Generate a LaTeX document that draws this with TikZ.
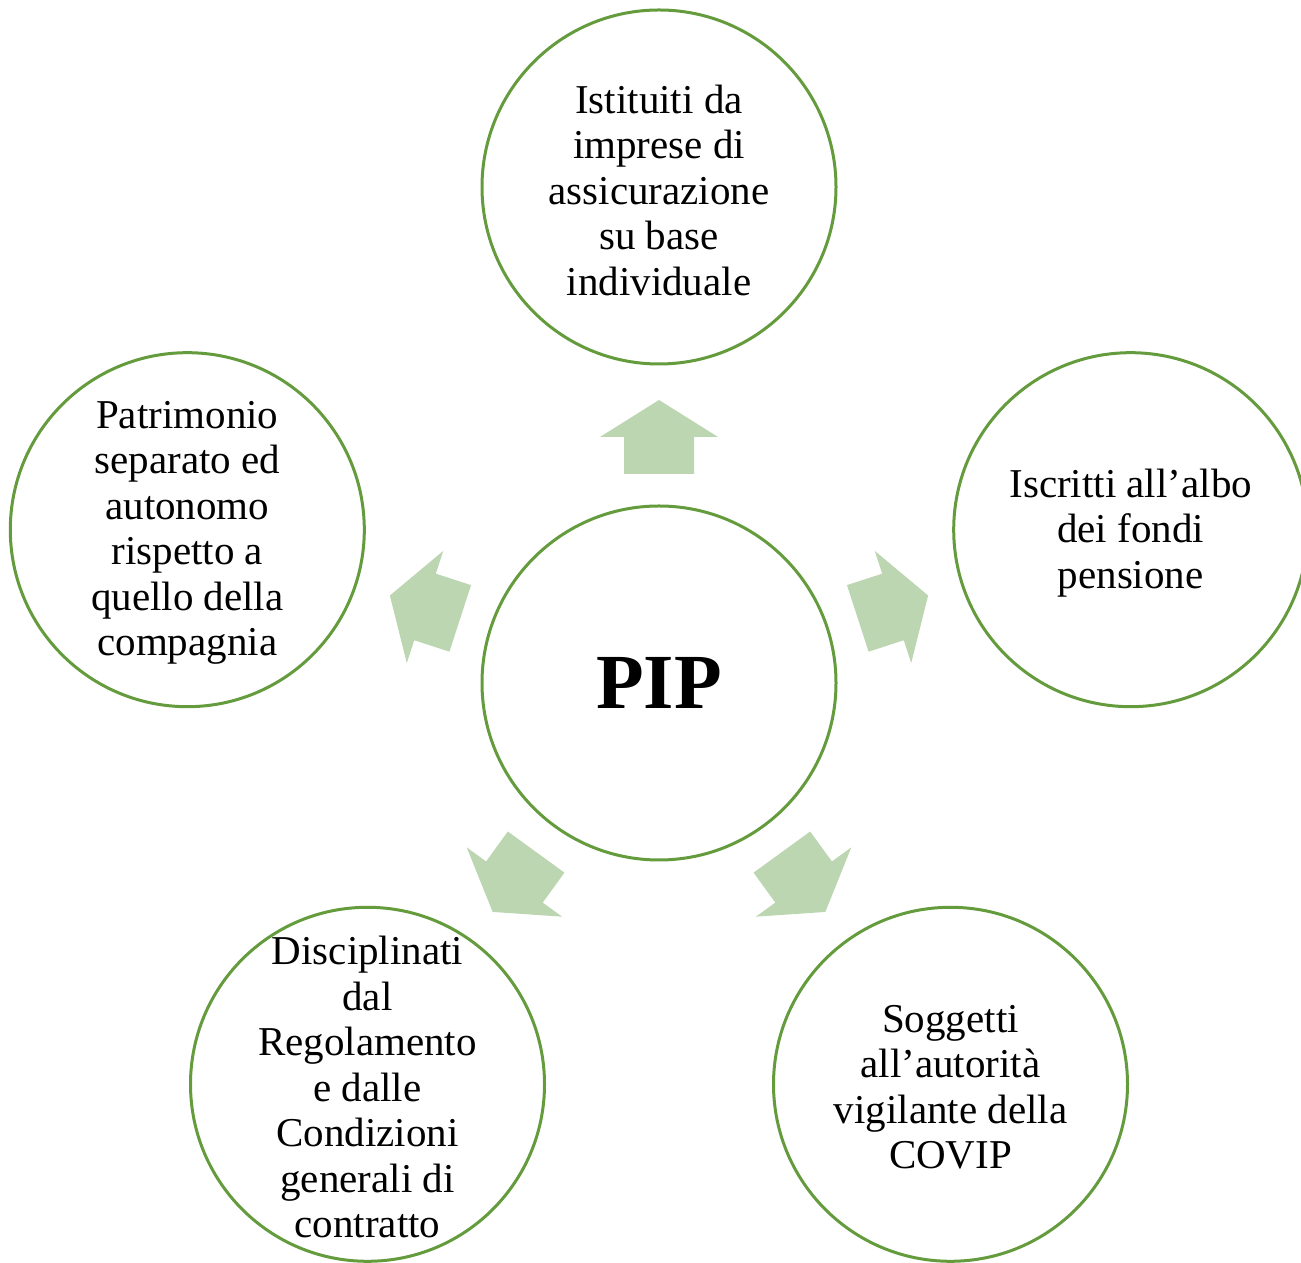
\documentclass[tikz,border=0pt]{standalone}
\usepackage{fontspec}
\setmainfont{Liberation Serif}
\definecolor{ring}{RGB}{100,155,60}
\definecolor{arr}{RGB}{188,214,178}
\begin{document}
\begin{tikzpicture}[x=1pt,y=1pt,
  bubble/.style={circle, draw=ring, line width=3pt, fill=white, minimum size=354pt, inner sep=0pt},
  txt/.style={align=center, inner sep=0pt, yshift=-3pt, font=\fontsize{41}{45.5}\selectfont},
  blockarrow/.style={fill=arr, draw=none}]
\useasboundingbox (0,0) rectangle (1301,1263);
\clip (0,0) rectangle (1301,1263);
\coordinate (c) at (659,580);
% arrows
\foreach \a in {90,18,-54,-126,162}{
  \fill[blockarrow, shift={(c)}, rotate=\a]
    (209,35) -- (246,35) -- (246,59) -- (283,0) -- (246,-59) -- (246,-35) -- (209,-35) -- cycle;
}
% circles
\node[bubble] (pip) at (c) {};
\node[bubble] (top) at (659,1076) {};
\node[bubble] (right) at (1130.7,733.3) {};
\node[bubble] (left) at (187.3,733.3) {};
\node[bubble] (br) at (950.5,178.7) {};
\node[bubble] (bl) at (367.5,178.7) {};
% texts
\node[inner sep=0pt, font=\fontsize{78}{80}\selectfont\bfseries] (pipt) at (pip) {PIP};
\node[txt] (topt) at (top) {Istituiti da\\imprese di\\assicurazione\\su base\\individuale};
\node[txt] (rightt) at (right) {Iscritti all’albo\\dei fondi\\pensione};
\node[txt] (leftt) at (left) {Patrimonio\\separato ed\\autonomo\\rispetto a\\quello della\\compagnia};
\node[txt] (brt) at (br) {Soggetti\\all’autorità\\vigilante della\\COVIP};
\node[txt] (blt) at (bl) {Disciplinati\\dal\\Regolamento\\e dalle\\Condizioni\\generali di\\contratto};
\end{tikzpicture}
\end{document}
